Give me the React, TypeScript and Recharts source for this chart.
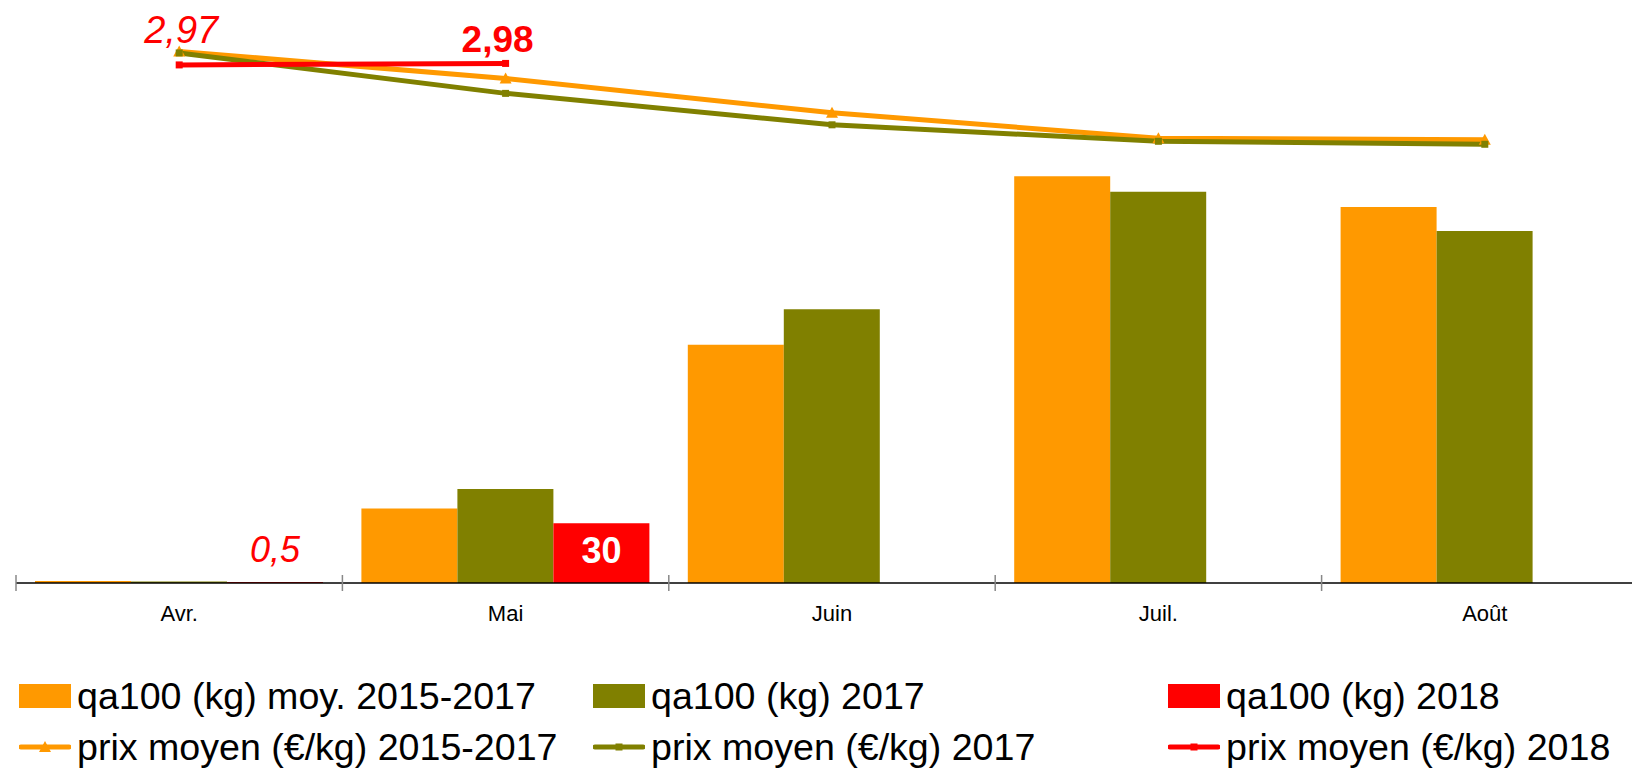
import { Bar, ComposedChart, LabelList, Line, XAxis, YAxis } from "recharts";

// months + series
const MONTHS = ["Avr.", "Mai", "Juin", "Juil.", "Août"];
const QA_MOY = [1.0, 37.5, 119.8, 204.5, 189.0];
const QA_2017 = [0.8, 47.2, 137.6, 196.7, 176.9];
const QA_2018 = [0.5, 30, null, null, null];
const PRIX_MOY = [3.06, 2.88, 2.65, 2.48, 2.47];
const PRIX_2017 = [3.05, 2.78, 2.57, 2.46, 2.44];
const PRIX_2018 = [2.97, 2.98, null, null, null];

const ORANGE = "#FF9900";
const OLIVE = "#808000";
const RED = "#FF0000";
const FONT = "'Liberation Sans', Arial, sans-serif";

const W = 1660;
const H = 768;
const MARGIN = { top: 20, right: 12, left: 16, bottom: 125 };
const BAND = (W - MARGIN.left - MARGIN.right) / MONTHS.length;

const data = MONTHS.map((m, i) => ({
  month: m,
  qaMoy: QA_MOY[i],
  qa2017: QA_2017[i],
  qa2018: QA_2018[i],
  prixMoy: PRIX_MOY[i],
  prix2017: PRIX_2017[i],
  prix2018: PRIX_2018[i],
}));

const fmt = (v: number) => String(v).replace(".", ",");

function MonthTick(props: any) {
  const { x, y, payload } = props;
  const bx = x - BAND / 2;
  return (
    <g>
      <line x1={bx} x2={bx} y1={y - 8} y2={y + 8} stroke="#888" strokeWidth={1.5} />
      <text x={x} y={y + 38} textAnchor="middle" fontSize={22} fill="#000" fontFamily={FONT}>
        {payload.value}
      </text>
    </g>
  );
}

const Triangle = (props: any) => {
  const { cx, cy } = props;
  if (cx == null || cy == null) return null;
  return <polygon points={`${cx - 6},${cy + 5} ${cx + 6},${cy + 5} ${cx},${cy - 6}`} fill={ORANGE} />;
};

const square = (color: string) => (props: any) => {
  const { cx, cy } = props;
  if (cx == null || cy == null) return null;
  return <rect x={cx - 3.5} y={cy - 3.5} width={7} height={7} fill={color} />;
};

function BarLabel(props: any) {
  const { x, y, width, height, value, index } = props;
  if (value == null) return null;
  if (index === 0) {
    return (
      <text x={x + width / 2} y={y - 20} textAnchor="middle" fontSize={36} fontStyle="italic" fill={RED} fontFamily={FONT}>
        {fmt(value)}
      </text>
    );
  }
  return (
    <text x={x + width / 2} y={y + height / 2 + 10} textAnchor="middle" fontSize={36} fontWeight="bold" fill="#fff" fontFamily={FONT}>
      {fmt(value)}
    </text>
  );
}

function PrixLabel(props: any) {
  const { x, y, value, index } = props;
  if (value == null) return null;
  if (index === 0) {
    return (
      <text x={x + 2} y={y - 22} textAnchor="middle" fontSize={38} fontStyle="italic" fill={RED} fontFamily={FONT}>
        {fmt(value)}
      </text>
    );
  }
  return (
    <text x={x - 8} y={y - 11} textAnchor="middle" fontSize={37} fontWeight="bold" fill={RED} fontFamily={FONT}>
      {fmt(value)}
    </text>
  );
}

const LEGEND = [
  { label: "qa100 (kg) moy. 2015-2017", color: ORANGE, kind: "bar", x: 19, row: 0 },
  { label: "qa100 (kg) 2017", color: OLIVE, kind: "bar", x: 593, row: 0 },
  { label: "qa100 (kg) 2018", color: RED, kind: "bar", x: 1168, row: 0 },
  { label: "prix moyen (€/kg) 2015-2017", color: ORANGE, kind: "tri", x: 19, row: 1 },
  { label: "prix moyen (€/kg) 2017", color: OLIVE, kind: "sq", x: 593, row: 1 },
  { label: "prix moyen (€/kg) 2018", color: RED, kind: "sq", x: 1168, row: 1 },
];
const ROW_Y = [696, 747];

function Swatch({ color, kind }: { color: string; kind: string }) {
  if (kind === "bar") {
    return <div style={{ width: 52, height: 24, background: color }} />;
  }
  return (
    <svg width={52} height={20}>
      <line x1={2} x2={50} y1={10} y2={10} stroke={color} strokeWidth={5} strokeLinecap="round" />
      {kind === "tri" ? (
        <polygon points="20,15 32,15 26,4" fill={color} />
      ) : (
        <rect x={22.5} y={6.5} width={7} height={7} fill={color} />
      )}
    </svg>
  );
}

export default function App() {
  return (
    <div style={{ position: "absolute", left: 0, top: 0, width: 1632, height: 768, overflow: "hidden", background: "#fff", fontFamily: FONT }}>
      <ComposedChart width={W} height={H} data={data} margin={MARGIN} barCategoryGap={19} barGap={0}>
        <XAxis
          dataKey="month"
          axisLine={{ stroke: "#000", strokeWidth: 1.5 }}
          tickLine={false}
          tickSize={0}
          tickMargin={0}
          height={60}
          interval={0}
          tick={<MonthTick />}
        />
        <YAxis yAxisId="qa" hide domain={[0, 283]} />
        <YAxis yAxisId="prix" hide orientation="right" domain={[-0.49, 3.27]} />
        <Bar yAxisId="qa" dataKey="qaMoy" fill={ORANGE} isAnimationActive={false} />
        <Bar yAxisId="qa" dataKey="qa2017" fill={OLIVE} isAnimationActive={false} />
        <Bar yAxisId="qa" dataKey="qa2018" fill={RED} isAnimationActive={false}>
          <LabelList dataKey="qa2018" content={<BarLabel />} />
        </Bar>
        <Line yAxisId="prix" dataKey="prixMoy" stroke={ORANGE} strokeWidth={5} dot={<Triangle />} activeDot={false} isAnimationActive={false} />
        <Line yAxisId="prix" dataKey="prix2017" stroke={OLIVE} strokeWidth={5} dot={square(OLIVE)} activeDot={false} isAnimationActive={false} />
        <Line yAxisId="prix" dataKey="prix2018" stroke={RED} strokeWidth={5} dot={square(RED)} activeDot={false} isAnimationActive={false}>
          <LabelList dataKey="prix2018" content={<PrixLabel />} />
        </Line>
      </ComposedChart>
      {LEGEND.map((item) => (
        <div
          key={item.label}
          style={{
            position: "absolute",
            left: item.x,
            top: ROW_Y[item.row] - 25,
            height: 50,
            display: "flex",
            alignItems: "center",
            gap: 6,
            fontSize: 37.6,
            color: "#000",
            whiteSpace: "nowrap",
          }}
        >
          <Swatch color={item.color} kind={item.kind} />
          <span>{item.label}</span>
        </div>
      ))}
    </div>
  );
}
